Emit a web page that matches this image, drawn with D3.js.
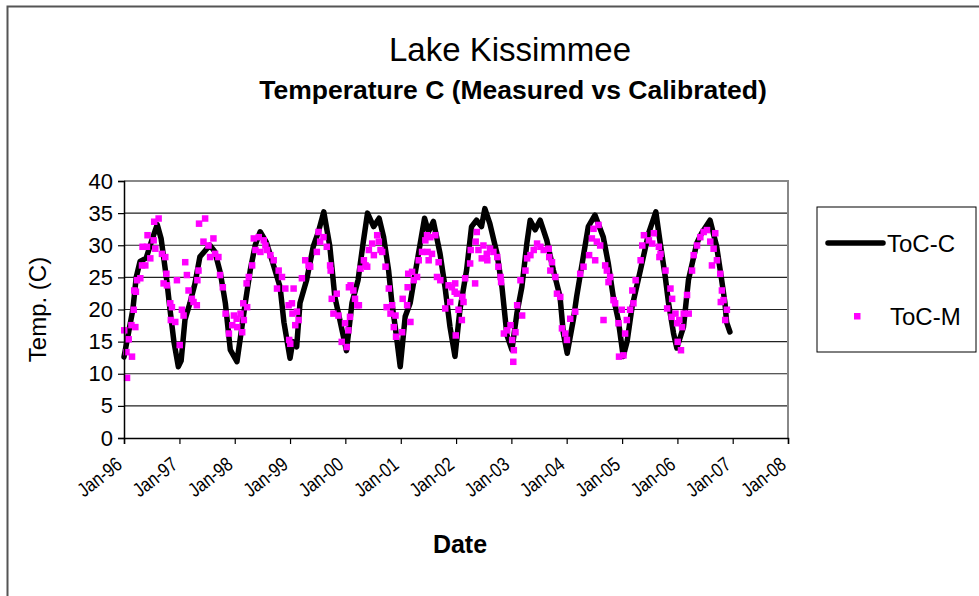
<!DOCTYPE html>
<html>
<head>
<meta charset="utf-8">
<script src="https://cdn.jsdelivr.net/npm/d3@7"></script>
<style>
  body { margin: 0; background: #fff; }
  svg { display: block; font-family: Arial, "Liberation Sans", sans-serif; }
</style>
</head>
<body>
<div id="chart"></div>
<script>
// Calibrated series (decimal year, temp C)
const calTime = [
  1996.00, 1996.16, 1996.22, 1996.29, 1996.40, 1996.51, 1996.60, 1996.67, 1996.77, 1996.83, 1996.90, 1996.98,
  1997.03, 1997.10, 1997.19, 1997.28, 1997.37, 1997.55, 1997.64, 1997.74, 1997.83, 1997.92,
  1998.04, 1998.13, 1998.19, 1998.28, 1998.37, 1998.46, 1998.57, 1998.69, 1998.82, 1998.89,
  1999.00, 1999.05, 1999.12, 1999.18, 1999.30, 1999.42, 1999.51, 1999.61, 1999.72, 1999.81, 1999.90,
  2000.02, 2000.12, 2000.23, 2000.32, 2000.40, 2000.51, 2000.61, 2000.69, 2000.78, 2000.84, 2000.90, 2000.99,
  2001.08, 2001.17, 2001.32, 2001.43, 2001.50, 2001.59, 2001.71, 2001.80, 2001.89, 2001.98,
  2002.07, 2002.19, 2002.28, 2002.37, 2002.46, 2002.52, 2002.61, 2002.74, 2002.83, 2002.92,
  2003.01, 2003.10, 2003.19, 2003.28, 2003.34, 2003.43, 2003.52, 2003.64, 2003.76, 2003.88, 2003.94,
  2004.01, 2004.12, 2004.18, 2004.33, 2004.39, 2004.51, 2004.66, 2004.75, 2004.84, 2004.93,
  2005.02, 2005.09, 2005.18, 2005.33, 2005.48, 2005.61, 2005.69, 2005.78, 2005.84, 2005.93, 2005.99,
  2006.11, 2006.20, 2006.35, 2006.44, 2006.59, 2006.71, 2006.80, 2006.86, 2006.89, 2006.95
];
const calTemp = [
  12.6, 20.0, 25.0, 27.5, 28.0, 31.0, 33.2, 31.0, 24.6, 20.0, 15.0, 11.1,
  12.0, 18.4, 21.0, 24.0, 28.2, 30.0, 29.0, 25.7, 21.0, 13.7,
  11.9, 17.3, 21.0, 26.1, 30.0, 32.1, 30.5, 27.2, 23.5, 18.0,
  12.4, 15.0, 14.2, 21.0, 24.6, 29.8, 32.0, 35.2, 29.8, 22.0, 18.4,
  13.6, 21.0, 24.6, 30.3, 35.0, 32.9, 34.2, 31.3, 26.1, 21.0, 17.3, 11.1,
  18.9, 21.0, 28.7, 34.2, 32.1, 33.7, 28.7, 23.5, 17.3, 12.7,
  20.0, 26.1, 32.9, 33.9, 32.9, 35.7, 33.4, 28.7, 23.5, 16.0,
  13.7, 19.4, 23.5, 30.3, 33.9, 32.4, 33.9, 30.8, 26.1, 22.0, 16.3,
  13.2, 18.4, 22.0, 29.8, 32.9, 34.7, 31.3, 27.2, 22.0, 18.4,
  12.7, 15.0, 20.4, 26.1, 31.9, 35.2, 30.3, 25.1, 21.0, 16.3, 14.0,
  17.3, 24.6, 30.3, 31.9, 33.9, 29.8, 24.6, 21.0, 18.0, 16.5
];

// Measured series (decimal year, temp C)
const measTime = [
  1996.00, 1996.05, 1996.04, 1996.08, 1996.14, 1996.13, 1996.17, 1996.20, 1996.18, 1996.23, 1996.21, 1996.29,
  1996.32, 1996.38, 1996.33, 1996.41, 1996.47, 1996.42, 1996.53, 1996.54, 1996.62, 1996.56, 1996.68, 1996.74,
  1996.71, 1996.77, 1996.76, 1996.83, 1996.84, 1996.86, 1996.92, 1996.95, 1997.00,
  1997.04, 1997.07, 1997.10, 1997.13, 1997.16, 1997.22, 1997.25, 1997.31, 1997.32, 1997.34, 1997.35, 1997.46,
  1997.43, 1997.52, 1997.61, 1997.55, 1997.64, 1997.70, 1997.73, 1997.78, 1997.83, 1997.89, 1997.95, 1997.98,
  1998.04, 1998.03, 1998.10, 1998.13, 1998.16, 1998.15, 1998.22, 1998.21, 1998.25, 1998.31, 1998.37, 1998.34,
  1998.43, 1998.52, 1998.46, 1998.55, 1998.58, 1998.64, 1998.70, 1998.79, 1998.85, 1998.76, 1998.91, 1999.06, 1999.03,
  1998.97, 1999.04, 1998.98, 1999.00, 1999.12, 1999.15, 1999.09, 1999.21, 1999.27, 1999.33, 1999.36, 1999.48,
  1999.51, 1999.54, 1999.60, 1999.66, 1999.72, 1999.73, 1999.75, 1999.84, 1999.78, 1999.87, 1999.93, 1999.99,
  2000.02, 2000.05, 2000.06, 2000.08, 2000.09, 2000.14, 2000.17, 2000.21, 2000.24, 2000.27, 2000.33, 2000.36,
  2000.39, 2000.42, 2000.48, 2000.51, 2000.57, 2000.60, 2000.63, 2000.66, 2000.72, 2000.78, 2000.84, 2000.74,
  2000.81, 2000.90, 2000.87, 2000.91, 2001.02,
  2001.03, 2001.11, 2001.17, 2001.12, 2001.13, 2001.20, 2001.23, 2001.29, 2001.32, 2001.38, 2001.44, 2001.47,
  2001.53, 2001.62, 2001.48, 2001.50, 2001.56, 2001.68, 2001.65, 2001.71, 2001.86, 2001.92, 2001.98, 2001.97,
  2002.01, 2001.80, 2001.89, 2001.99,
  2002.04, 2002.10, 2002.13, 2002.11, 2002.16, 2002.25, 2002.34, 2002.26, 2002.37, 2002.35, 2002.40, 2002.49,
  2002.46, 2002.55, 2002.61, 2002.67, 2002.74, 2002.76, 2002.80, 2002.81, 2002.56,
  2002.86, 2002.92, 2002.98, 2003.01, 2003.04, 2003.03, 2003.10, 2003.07, 2003.19, 2003.16, 2003.25, 2003.28,
  2003.34, 2003.40, 2003.46, 2003.52, 2003.58, 2003.67, 2003.68, 2003.73, 2003.70, 2003.79, 2003.82, 2003.88,
  2003.91, 2003.97, 2004.00, 2004.06, 2004.15,
  2004.24, 2004.30, 2004.40, 2004.45, 2004.48, 2004.57, 2004.54, 2004.60, 2004.51, 2004.69, 2004.72, 2004.78,
  2004.75, 2004.84, 2004.66, 2004.87, 2004.93, 2004.99, 2005.05, 2004.94, 2005.02,
  2005.14, 2005.20, 2005.08, 2005.18, 2005.24, 2005.33, 2005.36, 2005.39, 2005.48, 2005.57, 2005.54, 2005.66,
  2005.69, 2005.67, 2005.78, 2005.87, 2005.90, 2005.81, 2005.89, 2005.96, 2005.99,
  2006.03, 2006.08, 2006.00, 2006.06, 2006.11, 2006.20, 2006.17, 2006.26, 2006.29, 2006.35, 2006.41, 2006.47,
  2006.53, 2006.59, 2006.65, 2006.68, 2006.71, 2006.62, 2006.77, 2006.80, 2006.83, 2006.78, 2006.89, 2006.86
];
const measTemp = [
  16.8, 9.4, 13.4, 15.4, 12.7, 17.6, 20.0, 17.3, 23.0, 24.6, 22.8, 24.9,
  26.9, 26.9, 29.8, 29.8, 28.0, 31.6, 30.8, 33.7, 34.2, 29.5, 28.7, 28.2,
  24.1, 23.8, 25.6, 21.0, 18.4, 20.4, 18.1, 24.6, 14.5,
  20.0, 19.1, 27.4, 25.4, 23.0, 21.7, 21.2, 20.7, 24.6, 26.1, 33.4, 34.2,
  30.6, 30.0, 31.1, 28.2, 28.7, 28.2, 25.4, 23.5, 19.4, 16.3, 17.6, 19.1,
  17.3, 18.6, 19.4, 16.5, 18.4, 21.0, 20.4, 24.1, 25.1, 26.9, 29.3, 31.1,
  31.3, 30.8, 29.0, 30.0, 29.3, 28.5, 27.7, 26.1, 25.1, 23.3, 23.3, 23.3, 21.0,
  20.7, 19.4, 15.3, 14.7, 19.7, 18.4, 17.6, 24.9, 27.7, 26.9, 26.7, 29.0,
  32.1, 30.6, 31.3, 29.8, 26.9, 26.1, 21.7, 22.5, 19.4, 19.1, 15.0, 17.9,
  14.2, 16.8, 23.5, 18.9, 23.8, 23.0, 21.7, 20.7, 20.7, 26.4, 27.7, 26.9,
  26.7, 29.3, 30.3, 28.5, 31.6, 30.6, 29.3, 29.0, 26.7, 23.3, 20.7, 20.4,
  19.4, 19.1, 17.3, 15.8, 16.5,
  21.7, 20.7, 18.1, 23.5, 25.6, 25.9, 24.6, 25.1, 27.7, 29.0, 30.8, 31.6,
  31.3, 31.6, 29.0, 27.7, 28.7, 27.4, 25.1, 24.6, 23.8, 23.5, 24.1, 22.8,
  22.5, 20.2, 21.2, 16.0,
  20.0, 18.4, 21.2, 22.0, 24.9, 27.2, 24.1, 29.3, 32.1, 30.6, 29.3, 30.0,
  28.0, 28.7, 29.5, 29.0, 28.2, 26.7, 25.1, 24.3, 27.7,
  16.3, 16.8, 17.6, 15.3, 13.7, 11.9, 20.7, 16.5, 19.1, 24.6, 26.1, 28.0,
  28.5, 29.3, 30.3, 29.8, 29.3, 29.5, 28.2, 27.4, 26.1, 25.1, 22.5, 22.0,
  17.1, 16.3, 15.3, 18.6, 19.7,
  25.6, 26.7, 28.5, 31.1, 32.6, 33.2, 30.6, 30.0, 27.7, 26.9, 26.1, 25.1,
  24.3, 21.5, 18.4, 21.0, 17.9, 20.0, 16.3, 12.7, 12.9,
  20.0, 21.0, 18.4, 23.0, 24.6, 27.7, 30.0, 31.6, 30.8, 31.9, 30.3, 29.8,
  28.7, 28.2, 26.1, 23.3, 21.7, 20.2, 18.9, 19.4, 17.9,
  18.4, 17.3, 15.0, 13.7, 19.4, 19.4, 22.3, 26.1, 28.5, 30.0, 31.3, 32.1,
  32.4, 30.6, 29.5, 31.9, 27.7, 26.9, 25.6, 23.0, 21.5, 21.2, 20.0, 18.4
];

const yTicks = [0, 5, 10, 15, 20, 25, 30, 35, 40];
const seriesNames = ['ToC-C', 'ToC-M'];

// decimal year -> Date
function toDate(t) {
    const yr = Math.floor(t);
    const a = new Date(yr, 0, 1), b = new Date(yr + 1, 0, 1);
    return new Date(+a + (t - yr) * (b - a));
}

const calData = calTime.map((t, i) => ({ date: toDate(t), temp: calTemp[i] }));
const measData = measTime.map((t, i) => ({ date: toDate(t), temp: measTemp[i] }));

const W = 979, H = 596;
const margin = { top: 181, right: 191, bottom: 158, left: 124 };
const width = W - margin.left - margin.right;
const height = H - margin.top - margin.bottom;

const svg = d3.select('#chart')
    .append('svg')
    .attr('width', W)
    .attr('height', H);

// Outer chart frame (continues off the right and bottom edges)
svg.append('path')
    .attr('d', `M7.5,${H} V6.5 H${W}`)
    .attr('fill', 'none')
    .attr('stroke', '#555')
    .attr('stroke-width', 2);

// Titles
svg.append('text')
    .attr('x', 510).attr('y', 61)
    .attr('text-anchor', 'middle')
    .style('font-size', '33px')
    .text('Lake Kissimmee');

svg.append('text')
    .attr('x', 513).attr('y', 99)
    .attr('text-anchor', 'middle')
    .style('font-size', '26.5px')
    .style('font-weight', 'bold')
    .text('Temperature C (Measured vs Calibrated)');

const g = svg.append('g')
    .attr('transform', `translate(${margin.left},${margin.top})`);

const x = d3.scaleTime()
    .domain([new Date(1996, 0, 1), new Date(2008, 0, 1)])
    .range([0, width]);

const y = d3.scaleLinear()
    .domain([0, 40])
    .range([height, 0]);

// Grid lines
g.append('g')
    .selectAll('line')
    .data(yTicks.filter(d => d > 0))
    .enter()
    .append('line')
    .attr('x1', 0).attr('x2', width)
    .attr('y1', d => y(d)).attr('y2', d => y(d))
    .attr('stroke', '#222')
    .attr('stroke-width', 1.2);

// Plot border (top and right, grey)
g.append('path')
    .attr('d', `M0,${y(40)} H${width} V${height}`)
    .attr('fill', 'none')
    .attr('stroke', '#888')
    .attr('stroke-width', 2);

// Calibrated line
const line = d3.line()
    .x(d => x(d.date))
    .y(d => y(d.temp));

g.append('path')
    .datum(calData)
    .attr('d', line)
    .attr('fill', 'none')
    .attr('stroke', '#000')
    .attr('stroke-width', 5.5)
    .attr('stroke-linejoin', 'round')
    .attr('stroke-linecap', 'round');

// Measured points
g.selectAll('.meas')
    .data(measData)
    .enter()
    .append('rect')
    .attr('class', 'meas')
    .attr('x', d => x(d.date) - 3)
    .attr('y', d => y(d.temp) - 3)
    .attr('width', 6.5)
    .attr('height', 6.5)
    .attr('fill', '#ff00ff');

// Y axis
const yAxis = g.append('g')
    .call(d3.axisLeft(y).tickValues(yTicks).tickSize(6).tickPadding(5));
yAxis.select('.domain').attr('stroke', '#000').attr('stroke-width', 1.5);
yAxis.selectAll('.tick line').attr('stroke', '#000').attr('stroke-width', 1.2);
yAxis.selectAll('text')
    .style('font-size', '22px')
    .style('font-family', 'Arial, "Liberation Sans", sans-serif')
    .attr('fill', '#000');

// X axis
const xAxis = g.append('g')
    .attr('transform', `translate(0,${height})`)
    .call(d3.axisBottom(x)
        .ticks(d3.timeYear.every(1))
        .tickSize(6)
        .tickFormat(d3.timeFormat('Jan-%y')));
xAxis.select('.domain').attr('stroke', '#000').attr('stroke-width', 1.5);
xAxis.selectAll('.tick line').attr('stroke', '#000').attr('stroke-width', 1.2);
xAxis.selectAll('text')
    .style('font-size', '20px')
    .style('font-family', 'Arial, "Liberation Sans", sans-serif')
    .attr('fill', '#000')
    .attr('text-anchor', 'end')
    .attr('y', 0)
    .attr('dy', '0')
    .attr('textLength', 50)
    .attr('lengthAdjust', 'spacingAndGlyphs')
    .attr('transform', 'translate(-1,29) rotate(-38)');

// Axis titles
svg.append('text')
    .attr('transform', `translate(46,${margin.top + height / 2}) rotate(-90)`)
    .attr('text-anchor', 'middle')
    .style('font-size', '24px')
    .text('Temp. (C)');

svg.append('text')
    .attr('x', 460)
    .attr('y', 553)
    .attr('text-anchor', 'middle')
    .style('font-size', '25px')
    .style('font-weight', 'bold')
    .text('Date');

// Legend
const legend = svg.append('g').attr('transform', 'translate(817,207)');
legend.append('rect')
    .attr('x', 0).attr('y', 0)
    .attr('width', 159).attr('height', 145)
    .attr('fill', '#fff')
    .attr('stroke', '#000')
    .attr('stroke-width', 1);
legend.append('line')
    .attr('x1', 11).attr('x2', 66)
    .attr('y1', 36).attr('y2', 36)
    .attr('stroke', '#000')
    .attr('stroke-width', 5.5)
    .attr('stroke-linecap', 'round');
legend.append('text')
    .attr('x', 70).attr('y', 45)
    .style('font-size', '24px')
    .text(seriesNames[0]);
legend.append('rect')
    .attr('x', 37).attr('y', 106)
    .attr('width', 6.5).attr('height', 6.5)
    .attr('fill', '#ff00ff');
legend.append('text')
    .attr('x', 73).attr('y', 118)
    .style('font-size', '24px')
    .text(seriesNames[1]);
</script>
</body>
</html>
